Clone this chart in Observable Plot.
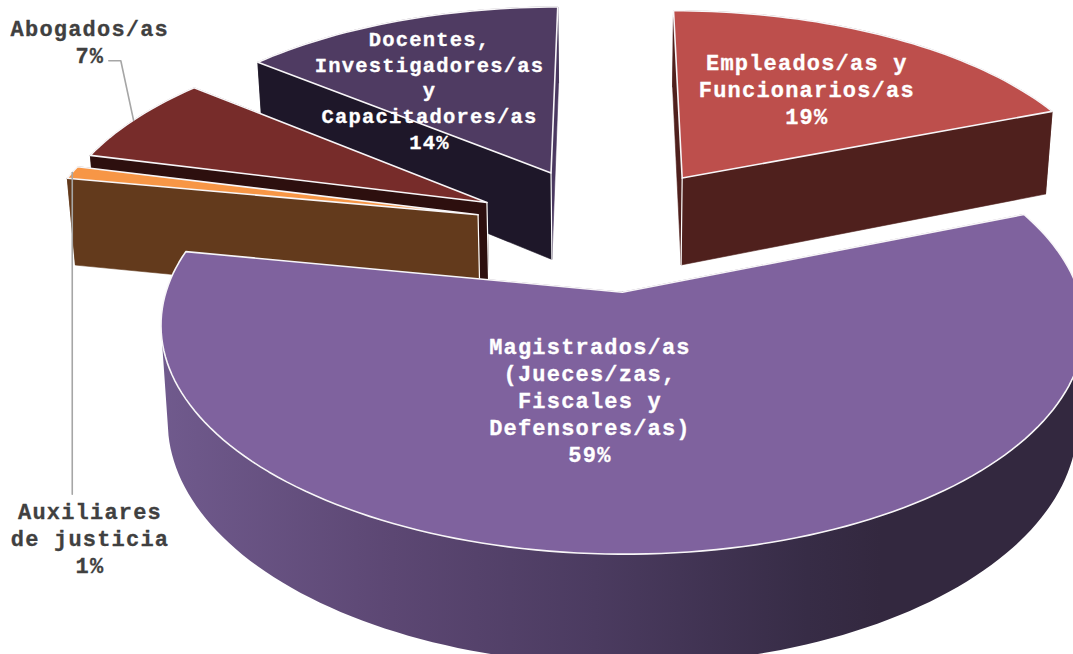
<!DOCTYPE html>
<html><head><meta charset="utf-8">
<style>html,body{margin:0;padding:0;background:#fff}svg{display:block}</style>
<script src="https://cdn.jsdelivr.net/npm/d3@7"></script>
<script src="https://cdn.jsdelivr.net/npm/@observablehq/plot@0.6"></script>
</head><body><div id="chart"></div>
<script>
// Data, in the chart's clockwise order from 12 o'clock
const categories = ["Empleados/as y\nFuncionarios/as", "Magistrados/as\n(Jueces/zas,\nFiscales y\nDefensores/as)", "Auxiliares\nde justicia", "Abogados/as", "Docentes,\nInvestigadores/as\ny\nCapacitadores/as"];
const values = [19, 59, 1, 7, 14];

// Styles
const topColors = ["#bd4f4c", "#7f629e", "#f79646", "#772c2a", "#4f3b62"];
const wallColors = ["#4f201d", "url(#mainWall)", "#633a1c", "#2d0f0e", "#1e1729"];
const sideColors = ["#4f201d", "#3a2d4a", "#633a1c", "#2d0f0e", "#4a3860"];
const labelColors = ["#fff", "#fff", "#404040", "#404040", "#fff"];
const labelSizes = [22, 22, 22, 22, 20.5];
const labelLeading = [1.227, 1.227, 1.227, 1.227, 1.254];
const paintOrder = [4, 0, 3, 2, 1];
const explode = [0.3, 0.3, 0.31, 0.32, 0.31];
const shiftX = [0, -1.5, -2, -2, -4.5];
const shiftY = [-1.5, 0, 0, 3, -0.5];
// where each label sits: radial fraction, then a nudge in pixels
const labelRadial = [0.6, 0.6, 1.2, 1.2, 0.6];
const labelNudgeX = [-4, -62, 96, 19.5, -25.5];
const labelNudgeY = [-1.5, -39, 373, -62.5, 11.5];

// Perspective camera of the tilted pie
const W = 1073, H = 654;
const cam = {vx: 610.5, vy: -1200, D: 1428, k: 0.143, R: 437, depth: 90, nadir: 0.015};
const rad = d => d * Math.PI / 180;
const project = (u, v) => {
  const w = 1 + cam.k * v;
  return {x: cam.vx + cam.R * u / w, y: cam.vy + cam.D / w, w};
};
const drop = p => ({x: p.x - (p.x - cam.vx) * cam.nadir, y: p.y + cam.depth / p.w, w: p.w});

// Build slices from the values
let acc = 0;
const slices = values.map((value, i) => {
  const a0 = 90 - acc * 3.6;
  const a1 = a0 - value * 3.6;
  acc += value;
  const mid = (a0 + a1) / 2;
  const e = explode[i];
  const cu = e * Math.cos(rad(mid)), cv = e * Math.sin(rad(mid));
  const at = (a, r = 1) => {
    const p = project(cu + r * Math.cos(rad(a)), cv + r * Math.sin(rad(a)));
    return {x: p.x + shiftX[i], y: p.y + shiftY[i], w: p.w, a};
  };
  const steps = Math.max(4, Math.ceil((a0 - a1) / 1.5));
  const rim = d3.range(steps + 1).map(t => at(a0 + (a1 - a0) * t / steps));
  return {i, value, a0, a1, mid, at, apex: at(0, 0), rim};
});

const face = (pts, fill, stroke = fill, strokeWidth = 0.6) =>
  Plot.line([...pts, pts[0]], {x: "x", y: "y", fill, stroke, strokeWidth, curve: "linear"});
const edge = (pts, stroke = "#fff", strokeWidth = 1.4) =>
  Plot.line(pts, {x: "x", y: "y", stroke, strokeWidth, curve: "linear"});

const marks = [];
marks.push(() => {
  const svgNS = "http://www.w3.org/2000/svg";
  const defs = document.createElementNS(svgNS, "defs");
  const g = document.createElementNS(svgNS, "linearGradient");
  g.setAttribute("id", "mainWall");
  [[0, "#705a8d"], [0.25, "#5c4773"], [0.47, "#4b3b60"], [0.7, "#372c46"], [0.78, "#33283f"], [1, "#33283f"]].forEach(([o, c]) => {
    const s = document.createElementNS(svgNS, "stop");
    s.setAttribute("offset", o); s.setAttribute("stop-color", c);
    g.appendChild(s);
  });
  defs.appendChild(g);
  return defs;
});

for (const idx of paintOrder) {
  const s = slices[idx];
  const wall = wallColors[idx];
  const first = s.rim[0], last = s.rim[s.rim.length - 1];
  const radial = p => [s.apex, p, drop(p), drop(s.apex)];
  const big = s.a0 - s.a1 > 180;
  if (big) {
    // only the part of the rim that faces the viewer carries a wall
    const front = s.rim.filter(p => Math.sin(rad(p.a)) < -0.18);
    const outer = [...front, ...front.map(drop).reverse()];
    marks.push(face(radial(first), sideColors[idx]), face(radial(last), sideColors[idx]), face(outer, wall, "none"));
  } else {
    const outer = [...s.rim, ...s.rim.map(drop).reverse()];
    // the radial edge lower on the page is the wall that faces the viewer
    const [frontEdge, sideEdge] = first.y > last.y ? [first, last] : [last, first];
    marks.push(face(outer, wall), face(radial(sideEdge), sideColors[idx]), face(radial(frontEdge), wall));
    marks.push(edge([s.apex, drop(s.apex)], "#fff", 1.2));
  }
  marks.push(face([s.apex, ...s.rim], topColors[idx], "#f8f6f8", 1.6));
}

// Leaders for the two outside labels
const labels = slices.map((s, i) => {
  const c = s.at(s.mid, labelRadial[i]);
  return {
    x: c.x + labelNudgeX[i],
    y: c.y + labelNudgeY[i],
    text: `${categories[i]}\n${s.value}%`,
    fill: labelColors[i],
    size: labelSizes[i],
    leading: labelLeading[i]
  };
});
const abog = slices[3], aux = slices[2];
const abogRim = abog.at(abog.mid + 0.5);
marks.push(edge([{x: labels[3].x + 19, y: labels[3].y + 20}, {x: labels[3].x + 31, y: labels[3].y + 20}, abogRim], "#a6a6a6", 1.6));
const auxRim = aux.at(aux.mid);
marks.push(edge([auxRim, {x: auxRim.x, y: labels[2].y - 43}], "#a6a6a6", 1.6));

for (const size of d3.union(labelSizes)) {
  const group = labels.filter(d => d.size === size);
  marks.push(Plot.text(group, {
    x: "x", y: "y", text: "text", fill: "fill", stroke: "fill", strokeWidth: 0.3,
    fontFamily: "Liberation Mono", fontWeight: "bold", fontSize: size,
    lineHeight: group[0].leading, textAnchor: "middle", lineAnchor: "middle"
  }));
}

const plot = Plot.plot({
  width: W, height: H, margin: 0,
  x: {domain: [0, W], range: [0, W], axis: null},
  y: {domain: [0, H], range: [0, H], axis: null},
  style: {background: "#fff", letterSpacing: "1.2px", fontFamily: "Liberation Mono"},
  marks
});
document.getElementById("chart").appendChild(plot);
</script></body></html>
